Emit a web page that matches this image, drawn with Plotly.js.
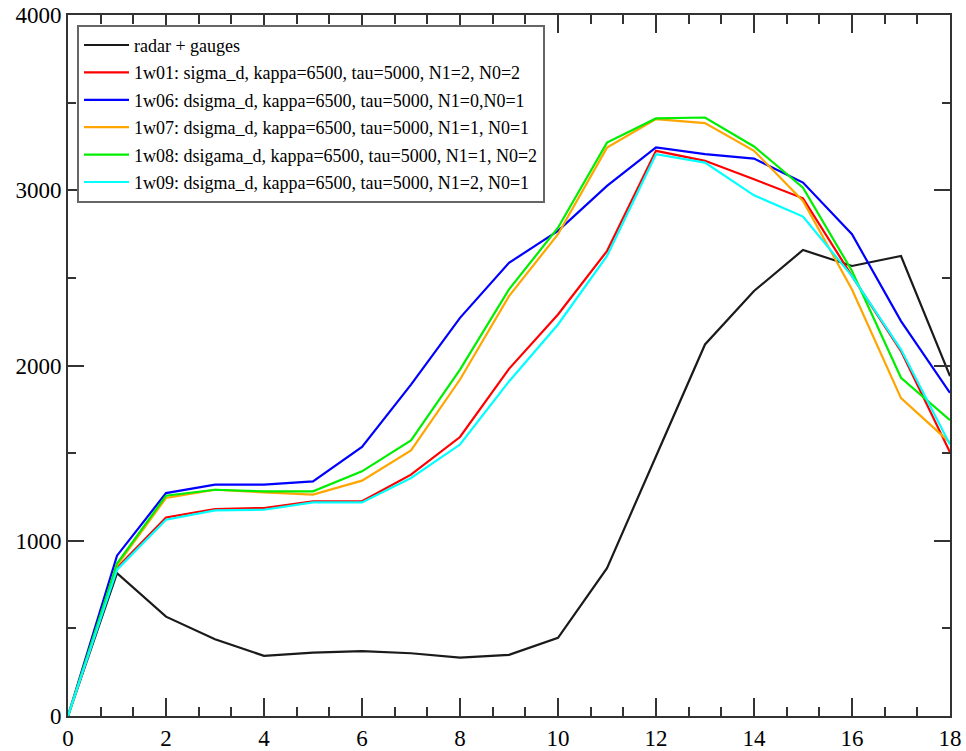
<!DOCTYPE html>
<html>
<head>
<meta charset="utf-8">
<script src="https://cdn.plot.ly/plotly-3.0.1.min.js"></script>
<style>html,body{margin:0;padding:0;background:#fff;}#chart{width:966px;height:751px;}</style>
</head>
<body>
<div id="chart"></div>
<script>
const hours = [0,1,2,3,4,5,6,7,8,9,10,11,12,13,14,15,16,17,18];

const radarGauges = [0,815,567,438,343,362,370,358,333,349,446,844,1482,2120,2425,2659,2568,2625,1939];
const w01 = [0,845,1133,1181,1187,1225,1225,1377,1592,1981,2291,2653,3225,3168,3063,2954,2510,2082,1505];
const w06 = [0,915,1272,1320,1320,1339,1535,1891,2272,2586,2768,3025,3244,3206,3181,3044,2749,2253,1844];
const w07 = [0,860,1244,1291,1276,1263,1343,1516,1920,2396,2749,3243,3406,3383,3225,2939,2434,1814,1560];
const w08 = [0,870,1257,1291,1282,1282,1396,1573,1977,2434,2786,3272,3410,3415,3250,3015,2539,1930,1688];
const w09 = [0,835,1120,1173,1177,1219,1219,1358,1549,1909,2234,2625,3206,3158,2971,2850,2510,2091,1549];

const seriesNames = [
  "radar + gauges",
  "1w01: sigma_d, kappa=6500, tau=5000, N1=2, N0=2",
  "1w06: dsigma_d, kappa=6500, tau=5000, N1=0,N0=1",
  "1w07: dsigma_d, kappa=6500, tau=5000, N1=1, N0=1",
  "1w08: dsigama_d, kappa=6500, tau=5000, N1=1, N0=2",
  "1w09: dsigma_d, kappa=6500, tau=5000, N1=2, N0=1"
];
const seriesValues = [radarGauges, w01, w06, w07, w08, w09];
const seriesColors = ["#1a1a1a", "#ff0000", "#0000ff", "#ffa500", "#00ee00", "#00ffff"];

const traces = seriesValues.map((vals, i) => ({
  x: hours,
  y: vals,
  type: "scatter",
  mode: "lines",
  name: seriesNames[i],
  legendgroup: "g" + i,
  line: {color: seriesColors[i], width: 2.2}
}));

const font = "Times New Roman, Liberation Serif, DejaVu Serif, serif";

const layout = {
  width: 966,
  height: 751,
  margin: {l: 68, r: 16, t: 15, b: 35},
  paper_bgcolor: "#fff",
  plot_bgcolor: "#fff",
  font: {family: font},
  showlegend: true,
  legend: {
    x: 0.0102, y: 0.986, xanchor: "left", yanchor: "top",
    bgcolor: "#fff", bordercolor: "#666", borderwidth: 2,
    font: {family: font, size: 18, color: "#000"},
    tracegroupgap: 1, traceorder: "grouped", itemwidth: 45
  },
  xaxis: {
    range: [0, 18], dtick: 2, tick0: 0,
    showgrid: false, zeroline: false,
    showline: true, linecolor: "#333", linewidth: 2, mirror: "ticks",
    ticks: "inside", ticklen: 18, tickwidth: 2, tickcolor: "#333",
    minor: {dtick: 2/3, tick0: 0, ticks: "inside", ticklen: 9, tickwidth: 2, tickcolor: "#333", showgrid: false},
    tickfont: {family: font, size: 23, color: "#000"},
    fixedrange: true
  },
  yaxis: {
    range: [0, 4000], dtick: 1000, tick0: 0,
    showgrid: false, zeroline: false,
    showline: true, linecolor: "#333", linewidth: 2, mirror: "ticks",
    ticks: "inside", ticklen: 16, tickwidth: 2, tickcolor: "#333",
    minor: {dtick: 500, tick0: 0, ticks: "inside", ticklen: 8, tickwidth: 2, tickcolor: "#333", showgrid: false},
    tickfont: {family: font, size: 23, color: "#000"},
    fixedrange: true
  }
};

Plotly.newPlot("chart", traces, layout, {displayModeBar: false, staticPlot: true});
</script>
</body>
</html>
